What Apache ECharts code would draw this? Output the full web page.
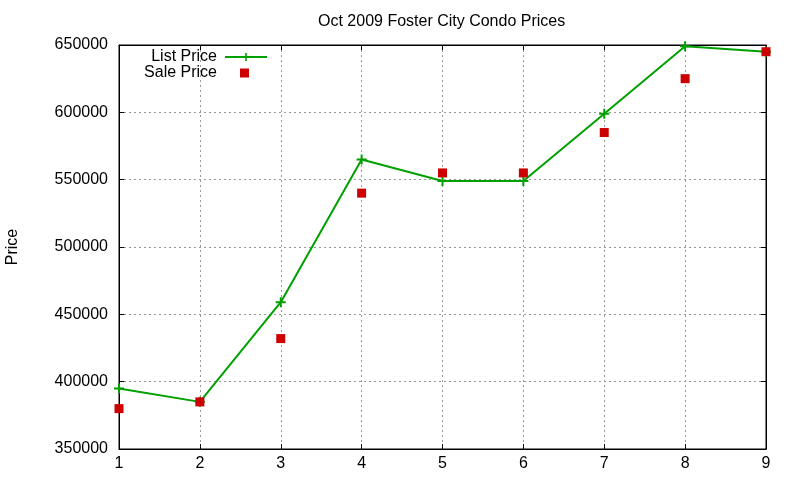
<!DOCTYPE html>
<html>
<head>
<meta charset="UTF-8">
<title>Oct 2009 Foster City Condo Prices</title>
<script src="https://cdn.jsdelivr.net/npm/echarts@6/dist/echarts.min.js"></script>
</head>
<body style="margin:0">
<div id="main" style="width:800px;height:480px;"></div>
<script>
// data
var months = [1, 2, 3, 4, 5, 6, 7, 8, 9];
var listPrice = [395000, 385000, 459000, 565000, 549000, 549000, 599000, 649000, 645000];
var salePrice = [380000, 385000, 432000, 540000, 555000, 555000, 585000, 625000, 645000];
var yTicks = [350000, 400000, 450000, 500000, 550000, 600000, 650000];

var font = 'Liberation Sans, Arial, sans-serif';
var plus = 'path://M4,0h2v4h4v2h-4v4h-2v-4h-4v-2h4z';

function pairs(xs, ys) {
  return xs.map(function (x, i) { return [x, ys[i]]; });
}

var chart = echarts.init(document.getElementById('main'));
chart.setOption({
  backgroundColor: '#fff',
  animation: false,
  textStyle: { fontFamily: font },
  // title is centred over the plot area, not the canvas
  title: {
    text: 'Oct 2009 Foster City Condo Prices',
    left: 313, top: 9,
    textStyle: { fontSize: 16, fontWeight: 'normal', color: '#000', fontFamily: font }
  },
  legend: [{
    data: ['List Price'],
    right: 527, top: 44, align: 'right',
    itemWidth: 42, itemHeight: 10,
    textStyle: { fontSize: 16, color: '#000', fontFamily: font, padding: [0, 3, 0, 0] }
  }, {
    data: [{ name: 'Sale Price', icon: 'rect' }],
    right: 546, top: 60, align: 'right',
    itemWidth: 9, itemHeight: 9,
    textStyle: { fontSize: 16, color: '#000', fontFamily: font, padding: [0, 18, 0, 0] }
  }],
  grid: {
    left: 119, right: 34, top: 45, bottom: 31, outerBoundsMode: 'none',
    show: true, borderColor: '#000', borderWidth: 1
  },
  xAxis: [{
    type: 'value', min: 1, max: 9, interval: 1,
    axisLine: { show: true, lineStyle: { color: '#000' } },
    axisTick: { inside: true, length: 5, lineStyle: { color: '#000' } },
    axisLabel: { fontSize: 16, color: '#000', margin: 7, fontFamily: font },
    splitLine: { show: true, lineStyle: { color: '#999', type: [2, 3] } }
  }, {
    type: 'value', position: 'top', min: 1, max: 9, interval: 1,
    axisLine: { show: true, lineStyle: { color: '#000' } },
    axisTick: { inside: true, length: 5, lineStyle: { color: '#000' } },
    axisLabel: { show: false },
    splitLine: { show: false }
  }],
  yAxis: [{
    type: 'value', min: yTicks[0], max: yTicks[yTicks.length - 1], interval: 50000,
    name: 'Price', nameLocation: 'middle', nameGap: 98, nameRotate: 90,
    nameTextStyle: { fontSize: 16, color: '#000', fontFamily: font },
    axisLine: { show: true, lineStyle: { color: '#000' } },
    axisTick: { inside: true, length: 5, lineStyle: { color: '#000' } },
    axisLabel: { fontSize: 16, color: '#000', margin: 11, fontFamily: font,
      formatter: function (v) { return String(v); } },
    splitLine: { show: true, lineStyle: { color: '#999', type: [2, 3] } }
  }, {
    type: 'value', position: 'right', min: yTicks[0], max: yTicks[yTicks.length - 1], interval: 50000,
    axisLine: { show: true, lineStyle: { color: '#000' } },
    axisTick: { inside: true, length: 5, lineStyle: { color: '#000' } },
    axisLabel: { show: false },
    splitLine: { show: false }
  }],
  series: [{
    name: 'List Price', type: 'line',
    data: pairs(months, listPrice),
    symbol: plus, symbolSize: 10, showAllSymbol: true,
    lineStyle: { color: '#00a000', width: 2 },
    itemStyle: { color: '#00a000' },
    z: 2
  }, {
    name: 'Sale Price', type: 'scatter',
    data: pairs(months, salePrice),
    symbol: 'rect', symbolSize: 9,
    itemStyle: { color: '#cc0000', opacity: 1 },
    z: 3
  }]
});
</script>
</body>
</html>
